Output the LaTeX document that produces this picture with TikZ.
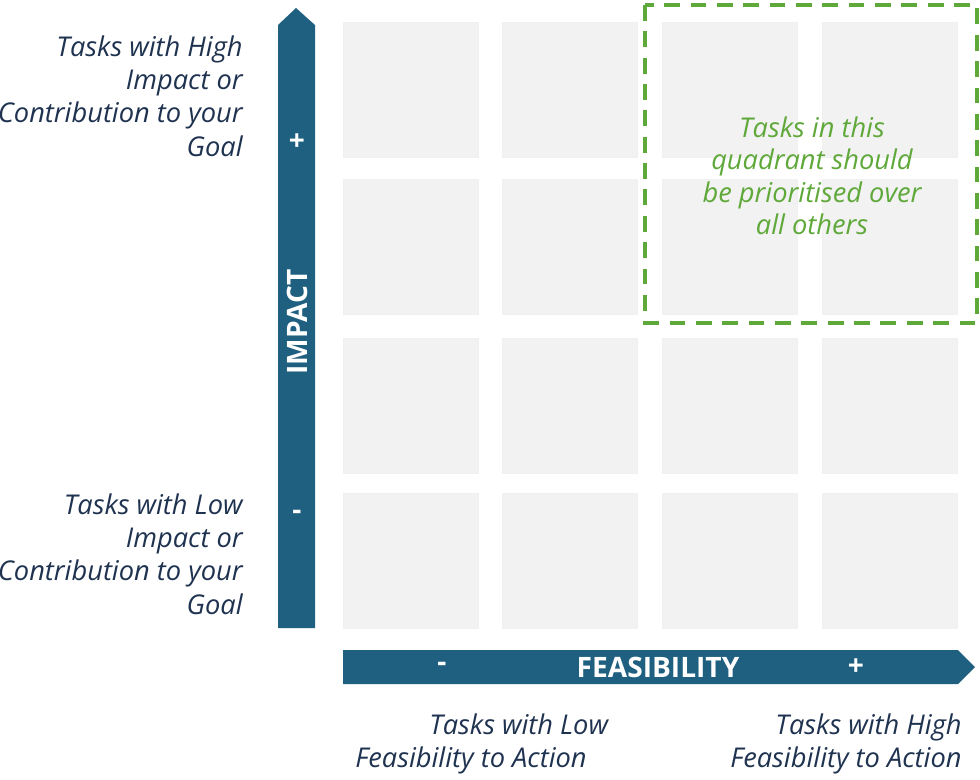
\documentclass[tikz,border=0pt]{standalone}
\usepackage{fontspec}
\setmainfont{Open Sans}
\usetikzlibrary{positioning,shapes.arrows}
\definecolor{axisblue}{HTML}{1F5F80}
\definecolor{labelnavy}{HTML}{1F3350}
\definecolor{quadgreen}{HTML}{5FA83A}
\tikzstyle{cell}=[draw=black!6, fill=black!5, minimum width=2.7cm, minimum height=2.7cm, inner sep=0pt]
\tikzstyle{sidetext}=[text=labelnavy, font=\fontsize{15.5}{19}\selectfont\itshape, inner sep=0pt]
\tikzstyle{axistext}=[text=white, font=\fontsize{16}{19}\selectfont\bfseries, inner sep=0pt]
\begin{document}
\begin{tikzpicture}[x=0.02cm,y=-0.02cm]
\useasboundingbox (0,0) rectangle (980,779);
% grid of cells
\foreach \cx [count=\i] in {410.5,570,729.5,889.5}
  \foreach \cy [count=\j] in {89.5,246.5,405.5,560.5}
    \node[cell] (cell\i\j) at (\cx,\cy) {};

% axes
\fill[axisblue] (278,628) -- (278,25) -- (296,8) -- (315,25) -- (315,628) -- cycle;
\fill[axisblue] (343,650) -- (958,650) -- (975,667) -- (958,684) -- (343,684) -- cycle;
\node[axistext, rotate=90] (impact) at (297,322) {IMPACT};
\node[axistext] (impplus) at (297,142) {+};
\node[axistext] (impminus) at (297,515) {-};
\node[axistext] (feas) at (658,667) {FEASIBILITY};
\node[axistext] (feasminus) at (442,667) {-};
\node[axistext] (feasplus) at (856,667) {+};

% priority quadrant
\draw[quadgreen, line width=2.2pt, dash pattern=on 9pt off 6pt] (645,5) rectangle (977,323);
\node[sidetext, text=quadgreen, align=center, font=\fontsize{15.5}{18.5}\selectfont\itshape] (quad) at (812,176)
  {Tasks in this\\quadrant should\\be prioritised over\\all others};

% axis descriptions
\node[sidetext, align=right, anchor=east] (hiimp) at (243,96)
  {Tasks with High\\Impact or\\Contribution to your\\Goal};
\node[sidetext, align=right, anchor=east] (loimp) at (243,554)
  {Tasks with Low\\Impact or\\Contribution to your\\Goal};
\node[sidetext, align=center] (lofeas) at (471,744)
  {\hspace*{3.5em}Tasks with Low\\Feasibility to Action};
\node[sidetext, align=right, anchor=east] (hifeas) at (962,744)
  {Tasks with High\\Feasibility to Action};
\end{tikzpicture}
\end{document}
